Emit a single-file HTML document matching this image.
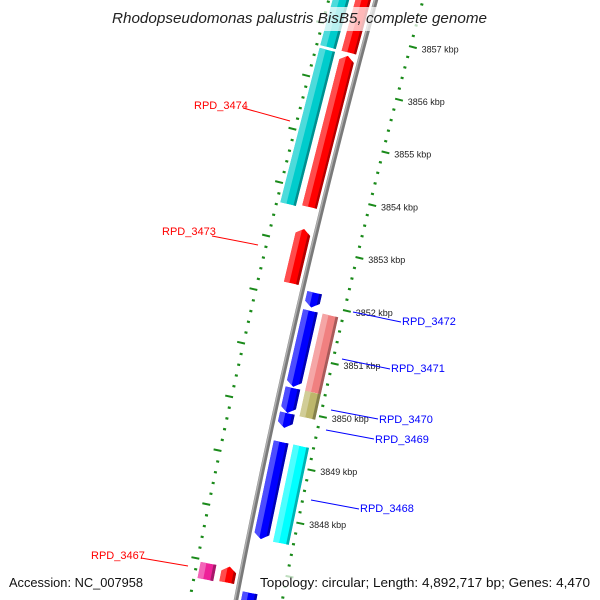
<!DOCTYPE html>
<html><head><meta charset="utf-8"><style>
html,body{margin:0;padding:0;background:#fff;width:600px;height:600px;overflow:hidden;}
svg{display:block;overflow:hidden;font-family:"Liberation Sans","DejaVu Sans",sans-serif;}
</style></head><body>
<svg id="map" width="600" height="600" viewBox="0 0 600 600" xmlns="http://www.w3.org/2000/svg">
<g id="rings"></g>
<g id="feats"></g>
<g id="bb"></g>
<g id="klabels"></g>
<g font-size="11">
 <line x1="243" y1="108" x2="290" y2="121" stroke="#f00" stroke-width="1"/>
 <text x="194" y="109" fill="#f00">RPD_3474</text>
 <line x1="212" y1="236" x2="258" y2="245" stroke="#f00" stroke-width="1"/>
 <text x="162" y="235" fill="#f00">RPD_3473</text>
 <line x1="141" y1="558" x2="188" y2="566" stroke="#f00" stroke-width="1"/>
 <text x="91" y="559" fill="#f00">RPD_3467</text>
 <line x1="353" y1="312" x2="401" y2="322" stroke="#00f" stroke-width="1"/>
 <text x="402" y="325" fill="#00f">RPD_3472</text>
 <line x1="342" y1="359" x2="390" y2="369" stroke="#00f" stroke-width="1"/>
 <text x="391" y="372" fill="#00f">RPD_3471</text>
 <line x1="331" y1="410" x2="378" y2="419" stroke="#00f" stroke-width="1"/>
 <text x="379" y="423" fill="#00f">RPD_3470</text>
 <line x1="326" y1="430" x2="374" y2="439" stroke="#00f" stroke-width="1"/>
 <text x="375" y="443" fill="#00f">RPD_3469</text>
 <line x1="311" y1="500" x2="359" y2="509" stroke="#00f" stroke-width="1"/>
 <text x="360" y="512" fill="#00f">RPD_3468</text>
</g>
<rect x="108" y="7" width="384" height="24" fill="#fff" opacity="0.72"/>
<text x="112" y="23" font-size="14.5" font-style="italic" fill="#222" textLength="375" lengthAdjust="spacingAndGlyphs">Rhodopseudomonas palustris BisB5, complete genome</text>
<rect x="5" y="572" width="142" height="21" fill="#fff" opacity="0.72"/>
<text x="9" y="587" font-size="13" fill="#111" textLength="134" lengthAdjust="spacingAndGlyphs">Accession: NC_007958</text>
<rect x="256" y="572" width="340" height="21" fill="#fff" opacity="0.72"/>
<text x="260" y="587" font-size="13" fill="#111" textLength="330" lengthAdjust="spacingAndGlyphs">Topology: circular; Length: 4,892,717 bp; Genes: 4,470</text>
</svg>
<script>
// data arrays (positions in kbp)
const featStart = [3856.60, 3856.60, 3853.69, 3853.65, 3852.26, 3846.65, 3846.67, 3851.91, 3850.42, 3850.40, 3849.92, 3849.93, 3849.65, 3847.57, 3847.57, 3845.00];
const featEnd   = [3859.00, 3859.00, 3856.54, 3856.55, 3853.28, 3846.95, 3846.97, 3852.19, 3851.85, 3851.85, 3850.40, 3850.40, 3849.93, 3849.39, 3849.39, 3846.57];
const featSlot  = ['inL','outL','inL','outL','inL','outL','inL','inR','inR','outR','outR','inR','inR','inR','outR','inR'];
const featStrand= [1,0,1,0,1,0,1,-1,-1,0,0,-1,-1,-1,0,-1];
const featColor = ['#ff0000','#00cccc','#ff0000','#00cccc','#ff0000','#ee2299','#ff0000','#0000ff','#0000ff','#f08080','#bdb76b','#0000ff','#0000ff','#0000ff','#00ffff','#0000ff'];
const kbpLabels = [3848,3849,3850,3851,3852,3853,3854,3855,3856,3857];

const NS='http://www.w3.org/2000/svg';
const CX=8498.6, CY=2210, R=8418, PHI0=Math.atan2(-1910,-8198.4), DEL=0.006498;
function P(k,d){const a=PHI0+(k-3852)*DEL, r=R+d; return [CX+r*Math.cos(a), CY+r*Math.sin(a)];}
const SLOTS={inL:[5,20],outL:[26,42],inR:[-20,-5],outR:[-41,-25]};
function mk(tag,attrs,parent){const e=document.createElementNS(NS,tag);for(const k in attrs)e.setAttribute(k,attrs[k]);parent.appendChild(e);return e;}
function pts(a){return a.map(p=>p[0].toFixed(2)+','+p[1].toFixed(2)).join(' ');}
function shade(hex,f){let n=parseInt(hex.slice(1),16),r=n>>16,g=(n>>8)&255,b=n&255;
 if(f>0){r+= (255-r)*f;g+=(255-g)*f;b+=(255-b)*f;}else{r*=1+f;g*=1+f;b*=1+f;}
 return 'rgb('+Math.round(r)+','+Math.round(g)+','+Math.round(b)+')';}

// rings
const rings=document.getElementById('rings');
for(let i=Math.round(3845.4*5);i<=Math.round(3859*5);i++){
 const k=i/5, major=(i%5===0);
 [1,-1].forEach(s=>{
  const a=P(k,s*44), b=P(k,s*(major?52:47));
  const l=mk('line',{x1:a[0],y1:a[1],x2:b[0],y2:b[1],stroke:'#1a8a1a','stroke-width':major?2:2.2},rings);
  
  
 });
}

// features
const feats=document.getElementById('feats');
const defs=mk('defs',{},feats);
const H=0.1;
for(let i=0;i<featStart.length;i++){
 const k1=featStart[i], k2=featEnd[i], [dLo,dHi]=SLOTS[featSlot[i]], mid=(dLo+dHi)/2, st=featStrand[i];
 let poly;
 if(st===1) poly=[P(k1,dLo),P(k2-H,dLo),P(k2,mid),P(k2-H,dHi),P(k1,dHi)];
 else if(st===-1) poly=[P(k1+H,dLo),P(k2,dLo),P(k2,dHi),P(k1+H,dHi),P(k1,mid)];
 else poly=[P(k1,dLo),P(k2,dLo),P(k2,dHi),P(k1,dHi)];
 const cp=mk('clipPath',{id:'cp'+i},defs);
 mk('polygon',{points:pts(poly)},cp);
 const g=mk('g',{'clip-path':'url(#cp'+i+')'},feats);
 
 
 const w=dHi-dLo, c=featColor[i];
 mk('polygon',{points:pts(poly),fill:c},g);
 mk('polygon',{points:pts([P(k1-1,dHi-0.35*w),P(k2+1,dHi-0.35*w),P(k2+1,dHi+1),P(k1-1,dHi+1)]),fill:shade(c,0.3)},g);
 mk('polygon',{points:pts([P(k1-1,dLo-1),P(k2+1,dLo-1),P(k2+1,dLo+0.2*w),P(k1-1,dLo+0.2*w)]),fill:shade(c,-0.3)},g);
}

// backbone
const bb=document.getElementById('bb');
const arc=[];for(let k=3845.3;k<=3859.2;k+=0.1)arc.push(P(k,0));
const arcL=[];for(let k=3845.3;k<=3859.2;k+=0.1)arcL.push(P(k,1.2));
mk('polyline',{points:pts(arc),fill:'none',stroke:'#7a7a7a','stroke-width':4.5},bb);
mk('polyline',{points:pts(arcL),fill:'none',stroke:'#b0b0b0','stroke-width':1.5},bb);

// kbp labels
const kl=document.getElementById('klabels');
kbpLabels.forEach(k=>{
 const p=P(k,-57);
 const t=mk('text',{x:p[0].toFixed(1),y:(p[1]+3).toFixed(1),'font-size':9,fill:'#222'},kl);
 t.textContent=k+' kbp';
 
 
});
</script>
</body></html>
